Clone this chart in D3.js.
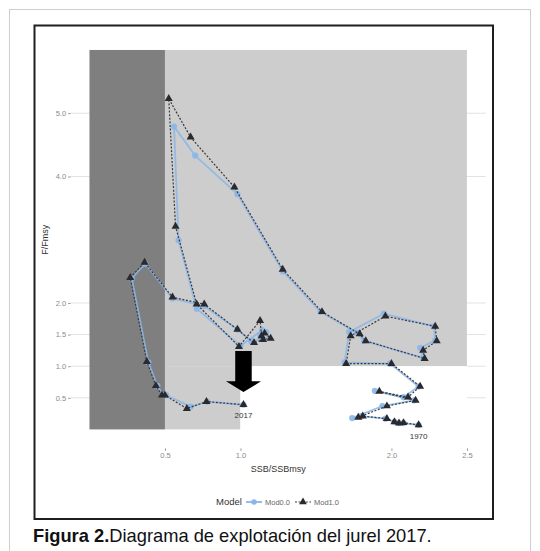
<!DOCTYPE html>
<html>
<head>
<meta charset="utf-8">
<script src="https://cdn.jsdelivr.net/npm/d3@7"></script>
<style>
  html, body { margin: 0; padding: 0; background: #fff; }
  svg { display: block; font-family: "Liberation Sans", Arial, Helvetica, sans-serif; }
</style>
</head>
<body>
<svg id="chart" width="540" height="551"></svg>
<script>
// Stock trajectory of jack mackerel (jurel), 1970-2017, two model runs
const years = [1970, 1971, 1972, 1973, 1974, 1975, 1976, 1977, 1978, 1979,
               1980, 1981, 1982, 1983, 1984, 1985, 1986, 1987, 1988, 1989,
               1990, 1991, 1992, 1993, 1994, 1995, 1996, 1997, 1998, 1999,
               2000, 2001, 2002, 2003, 2004, 2005, 2006, 2007, 2008, 2009,
               2010, 2011, 2012, 2013, 2014, 2015, 2016, 2017];

// Mod1.0: SSB/SSBmsy and F/Fmsy
const ssbMod10 = [2.18, 2.08, 2.05, 2.02, 1.97, 1.81, 1.78, 1.97, 2.16, 1.92,
                  2.11, 2.19, 2.00, 1.70, 1.73, 1.96, 2.29, 2.30, 2.21, 2.22,
                  1.83, 1.79, 1.54, 1.28, 0.96, 0.67, 0.525, 0.57, 0.71, 0.99,
                  1.13, 1.14, 1.16, 1.20, 1.15, 1.09, 0.98, 0.76, 0.55, 0.365,
                  0.27, 0.38, 0.44, 0.48, 0.50, 0.645, 0.775, 1.02];
const fMod10   = [0.07, 0.105, 0.10, 0.12, 0.17, 0.21, 0.19, 0.37, 0.46, 0.60,
                  0.51, 0.68, 1.04, 1.04, 1.48, 1.79, 1.63, 1.40, 1.25, 1.12,
                  1.40, 1.51, 1.86, 2.53, 3.83, 4.62, 5.23, 3.21, 1.98, 1.31,
                  1.72, 1.48, 1.52, 1.44, 1.42, 1.37, 1.58, 1.98, 2.09, 2.64,
                  2.40, 1.07, 0.69, 0.54, 0.54, 0.33, 0.44, 0.39];

// Mod0.0: SSB/SSBmsy and F/Fmsy
const ssbMod00 = [2.18, 2.08, 2.05, 2.02, 1.96, 1.80, 1.74, 1.94, 2.15, 1.89,
                  2.08, 2.18, 1.99, 1.69, 1.72, 1.95, 2.28, 2.29, 2.19, 2.21,
                  1.82, 1.77, 1.53, 1.28, 0.98, 0.70, 0.56, 0.59, 0.71, 1.00,
                  1.145, 1.13, 1.17, 1.19, 1.14, 1.07, 0.98, 0.76, 0.55, 0.37,
                  0.28, 0.39, 0.45, 0.49, 0.51, 0.67, 0.78, 1.02];
const fMod00   = [0.07, 0.10, 0.10, 0.12, 0.17, 0.21, 0.18, 0.37, 0.46, 0.61,
                  0.51, 0.68, 1.04, 1.06, 1.54, 1.83, 1.63, 1.41, 1.29, 1.13,
                  1.40, 1.53, 1.86, 2.50, 3.72, 4.33, 4.79, 2.99, 1.91, 1.32,
                  1.57, 1.50, 1.54, 1.45, 1.43, 1.40, 1.58, 1.95, 2.07, 2.62,
                  2.39, 1.06, 0.69, 0.54, 0.54, 0.36, 0.44, 0.39];

const modelNames = ["Mod0.0", "Mod1.0"];
const labelYears = [1970, 2017];

// Axis breaks
const xBreaks = [0.5, 1.0, 2.0, 2.5];
const xTickLabels = ["0.5", "1.0", "2.0", "2.5"];
const yBreaks = [0.5, 1.0, 1.5, 2.0, 4.0, 5.0];
const yTickLabels = ["0.5", "1.0", "1.5", "2.0", "4.0", "5.0"];

// Kobe zones (limits in SSB/SSBmsy and F/Fmsy)
const zoneNames = ["lowBiomass", "overfishing", "recovering", "healthy"];
const zoneX0 = [0.0, 0.5, 0.5, 1.0];
const zoneX1 = [0.5, 2.5, 1.0, 2.5];
const zoneY0 = [0.0, 1.0, 0.0, 0.0];
const zoneY1 = [6.0, 6.0, 1.0, 1.0];

// Arrow marking the latest year (tail, head base, tip in F/Fmsy)
const arrowSSB = 1.02;
const arrowF = [1.24, 0.76, 0.59];

// ---------- drawing ----------
const zoneFill = { lowBiomass: "#7f7f7f", overfishing: "#cdcdcd", recovering: "#cdcdcd", healthy: "#ffffff" };
const colMod00 = "#8ab6e8";
const colMod10 = "#2a2a2e";

const svg = d3.select("#chart");

// document frame and figure frame
svg.append("rect").attr("x", 9.5).attr("y", 9.5).attr("width", 521).attr("height", 560)
  .attr("fill", "none").attr("stroke", "#cfcfcf").attr("stroke-width", 1);
svg.append("rect").attr("x", 34.5).attr("y", 25.5).attr("width", 458.5).attr("height", 493.5)
  .attr("fill", "#fff").attr("stroke", "#1e1e1e").attr("stroke-width", 2);

const x = d3.scaleLinear().domain([-0.125, 2.625]).range([70.6, 485.8]);
const y = d3.scaleLinear().domain([-0.3, 6.3]).range([448.4, 31]);

// horizontal grid lines (mostly hidden behind the zones)
svg.append("g").selectAll("line").data(yBreaks).join("line")
  .attr("x1", x.range()[0]).attr("x2", x.range()[1])
  .attr("y1", d => y(d)).attr("y2", d => y(d))
  .attr("stroke", "#e2e2e2").attr("stroke-width", 1);

// zones
svg.append("g").selectAll("rect").data(zoneNames).join("rect")
  .attr("x", (d, i) => x(zoneX0[i]))
  .attr("y", (d, i) => y(zoneY1[i]))
  .attr("width", (d, i) => x(zoneX1[i]) - x(zoneX0[i]))
  .attr("height", (d, i) => y(zoneY0[i]) - y(zoneY1[i]))
  .attr("fill", d => zoneFill[d]);

// axes
const yAxis = d3.axisLeft(y).tickValues(yBreaks).tickFormat((d, i) => yTickLabels[i])
  .tickSize(2.5).tickPadding(2);
const gy = svg.append("g").attr("transform", `translate(${x.range()[0]},0)`).call(yAxis);
gy.select(".domain").remove();
gy.selectAll("line").attr("stroke", "#9a9a9a");
gy.selectAll("text").attr("fill", "#8a8a8a").attr("font-size", 7.5);

const xAxis = d3.axisBottom(x).tickValues(xBreaks).tickFormat((d, i) => xTickLabels[i])
  .tickSize(2.5).tickPadding(2);
const gx = svg.append("g").attr("transform", `translate(0,${y.range()[0]})`).call(xAxis);
gx.select(".domain").remove();
gx.selectAll("line").attr("stroke", "#9a9a9a");
gx.selectAll("text").attr("fill", "#8a8a8a").attr("font-size", 7.5);

// axis titles
svg.append("text").attr("x", (x.range()[0] + x.range()[1]) / 2).attr("y", 472)
  .attr("text-anchor", "middle").attr("font-size", 9).attr("fill", "#333")
  .text("SSB/SSBmsy");
svg.append("text")
  .attr("transform", `translate(48,${(y.range()[0] + y.range()[1]) / 2}) rotate(-90)`)
  .attr("text-anchor", "middle").attr("font-size", 9).attr("fill", "#333")
  .text("F/Fmsy");

// trajectories
const series = [
  { name: modelNames[0], ssb: ssbMod00, f: fMod00 },
  { name: modelNames[1], ssb: ssbMod10, f: fMod10 }
];
const pts = s => years.map((yr, i) => ({ year: yr, ssb: s.ssb[i], f: s.f[i] }));
const line = d3.line().x(d => x(d.ssb)).y(d => y(d.f));

const g0 = svg.append("g");
g0.append("path").datum(pts(series[0])).attr("d", line)
  .attr("fill", "none").attr("stroke", colMod00).attr("stroke-width", 1.8)
  .attr("stroke-opacity", 0.85);
g0.selectAll("path.pt").data(pts(series[0])).join("path").attr("class", "pt")
  .attr("transform", d => `translate(${x(d.ssb)},${y(d.f)})`)
  .attr("d", d3.symbol(d3.symbolCircle, 30))
  .attr("fill", colMod00).attr("fill-opacity", 0.9);

const g1 = svg.append("g");
g1.append("path").datum(pts(series[1])).attr("d", line)
  .attr("fill", "none").attr("stroke", "#3a3a3e").attr("stroke-width", 1.2)
  .attr("stroke-dasharray", "2,1.6");
g1.selectAll("path.pt").data(pts(series[1])).join("path").attr("class", "pt")
  .attr("transform", d => `translate(${x(d.ssb)},${y(d.f)})`)
  .attr("d", d3.symbol(d3.symbolTriangle, 28))
  .attr("fill", colMod10);

// year labels
svg.append("g").selectAll("text").data(labelYears).join("text")
  .attr("x", d => x(ssbMod10[years.indexOf(d)]))
  .attr("y", d => y(fMod10[years.indexOf(d)]) + 13.5)
  .attr("text-anchor", "middle").attr("font-size", 8).attr("fill", "#333")
  .text(d => d);

// arrow
const ax = x(arrowSSB);
const shaftHalf = 8.25, headHalf = 17.5;
svg.append("path")
  .attr("d", `M${ax - shaftHalf},${y(arrowF[0])} L${ax + shaftHalf},${y(arrowF[0])}
              L${ax + shaftHalf},${y(arrowF[1])} L${ax + headHalf},${y(arrowF[1])}
              L${ax},${y(arrowF[2])} L${ax - headHalf},${y(arrowF[1])}
              L${ax - shaftHalf},${y(arrowF[1])} Z`)
  .attr("fill", "#000");

// legend
const lg = svg.append("g").attr("transform", "translate(0,502)");
lg.append("text").attr("x", 216).attr("y", 3.3).attr("font-size", 9.5).attr("fill", "#333").text("Model");
// Mod0.0 key
lg.append("line").attr("x1", 246).attr("x2", 262).attr("y1", 0).attr("y2", 0)
  .attr("stroke", colMod00).attr("stroke-width", 1.8);
lg.append("path").attr("transform", "translate(254,0)").attr("d", d3.symbol(d3.symbolCircle, 24))
  .attr("fill", colMod00);
lg.append("text").attr("x", 265).attr("y", 2.8).attr("font-size", 7.5).attr("fill", "#666").text(modelNames[0]);
// Mod1.0 key
lg.append("line").attr("x1", 295).attr("x2", 311).attr("y1", 0).attr("y2", 0)
  .attr("stroke", "#3a3a3e").attr("stroke-width", 1.2).attr("stroke-dasharray", "2,1.6");
lg.append("path").attr("transform", "translate(303,0)").attr("d", d3.symbol(d3.symbolTriangle, 26))
  .attr("fill", colMod10);
lg.append("text").attr("x", 314).attr("y", 2.8).attr("font-size", 7.5).attr("fill", "#666").text(modelNames[1]);

// caption, sized to span the figure width
const cap = svg.append("text").attr("x", 33).attr("y", 542).attr("font-size", 16).attr("fill", "#111");
cap.append("tspan").attr("font-weight", "bold").text("Figura 2.");
cap.append("tspan").text("Diagrama de explotación del jurel 2017.");
const capLen = cap.node().getComputedTextLength();
cap.attr("font-size", 16 * 399 / capLen);
</script>
</body>
</html>
